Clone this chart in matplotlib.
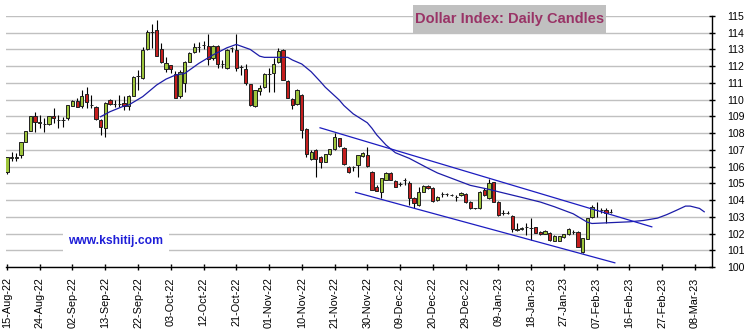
import matplotlib
matplotlib.use("Agg")
import matplotlib.pyplot as plt
from matplotlib.patches import Rectangle
import numpy as np
import pandas as pd

plt.rcParams['font.family'] = ['Liberation Sans', 'DejaVu Sans']

# Trading days (weekdays) of the candles and of the axis labels
start_day = '2022-08-15'
n_candles = 130
axis_days = 151
label_step = 7

# Daily OHLC of the Dollar Index
opens = [105.70, 106.50, 106.50, 106.70, 107.50, 108.15, 109.02, 108.62, 108.56, 108.54,
         109.04, 108.78, 108.78, 108.88, 109.64, 109.92, 109.64, 110.32, 109.68, 109.54,
         108.76, 108.29, 109.98, 109.72, 109.72, 109.78, 109.62, 110.22, 111.43, 111.27,
         113.00, 114.06, 114.16, 113.00, 111.81, 112.07, 111.53, 110.22, 111.00, 112.27,
         112.87, 113.17, 113.27, 113.20, 112.47, 113.20, 112.11, 111.91, 113.07, 112.97,
         111.97, 111.83, 110.92, 109.62, 110.54, 110.78, 111.53, 111.57, 112.23, 112.97,
         111.12, 110.04, 109.72, 110.28, 108.23, 106.43, 106.99, 106.59, 106.29, 106.73,
         107.03, 107.69, 107.13, 105.99, 106.00, 106.09, 106.63, 106.69, 105.70, 104.80,
         104.50, 105.20, 105.60, 105.14, 104.96, 105.20, 105.00, 104.10, 103.70, 104.50,
         104.84, 104.74, 104.00, 104.34, 104.34, 104.30, 104.20, 104.30, 104.34, 103.90,
         103.50, 103.50, 104.60, 104.10, 105.06, 103.90, 103.25, 103.25, 103.05, 102.20,
         102.25, 102.40, 102.35, 102.37, 102.10, 102.00, 102.05, 101.57, 101.57, 101.80,
         101.97, 102.10, 102.10, 100.92, 101.70, 103.00, 103.40, 103.40, 103.40, 103.30]
highs = [106.60, 106.85, 106.80, 107.50, 108.12, 109.02, 109.28, 109.08, 108.88, 109.00,
         109.48, 109.08, 108.98, 109.70, 110.00, 110.08, 110.57, 110.73, 110.27, 109.60,
         108.85, 109.85, 110.05, 109.98, 110.28, 110.22, 110.25, 111.40, 111.80, 113.13,
         114.16, 114.55, 114.76, 113.37, 112.57, 112.10, 111.70, 111.75, 112.30, 112.85,
         113.37, 113.47, 113.50, 113.90, 113.25, 113.25, 112.37, 113.00, 113.17, 113.90,
         112.07, 112.11, 110.95, 110.60, 110.88, 111.57, 111.87, 112.47, 113.11, 113.00,
         111.15, 110.08, 110.64, 110.35, 108.30, 106.99, 107.05, 106.65, 106.76, 107.06,
         108.03, 107.72, 107.16, 106.02, 106.05, 106.72, 106.85, 107.15, 105.75, 104.88,
         105.33, 105.66, 105.65, 105.18, 105.05, 105.30, 105.15, 104.18, 104.80, 104.92,
         104.90, 104.78, 104.26, 104.46, 104.40, 104.36, 104.30, 104.50, 104.40, 103.95,
         103.55, 104.55, 104.70, 105.25, 105.10, 103.95, 103.40, 103.35, 103.10, 102.60,
         102.40, 102.60, 102.90, 102.42, 102.15, 102.20, 102.10, 101.90, 101.88, 102.00,
         102.35, 102.20, 102.15, 101.75, 102.95, 103.70, 103.90, 103.55, 103.50, 103.45]
lows = [105.55, 106.33, 106.33, 106.53, 107.48, 108.10, 108.08, 108.28, 108.04, 108.50,
        108.58, 108.32, 108.38, 108.78, 109.60, 109.55, 109.52, 109.52, 109.48, 108.80,
        107.87, 107.79, 109.70, 109.58, 109.58, 109.38, 109.38, 110.20, 110.60, 111.25,
        112.98, 113.10, 112.60, 112.17, 111.67, 111.57, 110.07, 110.08, 110.48, 112.25,
        112.77, 112.87, 113.03, 112.10, 112.40, 111.91, 111.87, 111.85, 112.87, 111.71,
        111.47, 110.88, 109.64, 109.58, 110.28, 110.68, 110.48, 110.48, 112.20, 111.15,
        110.08, 109.44, 109.68, 107.73, 106.60, 106.39, 105.36, 105.90, 106.26, 106.70,
        107.00, 107.19, 106.10, 105.62, 105.75, 105.40, 106.60, 106.00, 104.58, 104.52,
        104.10, 105.17, 105.18, 104.78, 104.85, 104.90, 103.70, 103.55, 103.66, 104.47,
        104.65, 103.90, 103.96, 104.20, 104.25, 104.22, 103.95, 104.27, 103.84, 103.48,
        103.45, 103.48, 104.26, 104.05, 103.88, 103.05, 103.10, 103.15, 102.10, 102.15,
        102.22, 101.90, 101.60, 102.02, 101.92, 101.96, 101.58, 101.54, 101.54, 101.76,
        101.94, 102.00, 101.18, 100.85, 101.68, 102.95, 103.00, 103.25, 102.60, 103.20]
closes = [106.55, 106.55, 106.60, 107.50, 108.12, 109.02, 108.64, 108.64, 108.56, 109.00,
          108.88, 108.78, 108.78, 109.68, 109.94, 109.58, 110.24, 109.88, 109.68, 108.82,
          108.34, 109.82, 109.74, 109.72, 109.72, 109.62, 110.22, 111.37, 111.43, 112.97,
          114.06, 114.06, 112.63, 112.27, 112.17, 111.81, 110.08, 111.67, 112.27, 112.81,
          113.13, 113.17, 113.27, 112.43, 113.20, 112.11, 112.11, 112.97, 113.07, 111.91,
          111.97, 110.97, 109.68, 110.58, 110.72, 111.51, 111.53, 112.11, 112.91, 111.18,
          110.12, 109.68, 110.58, 108.19, 106.73, 106.89, 106.45, 106.29, 106.73, 107.03,
          107.79, 107.23, 106.13, 105.66, 106.00, 106.69, 106.79, 106.05, 104.60, 104.56,
          105.30, 105.60, 105.20, 104.80, 104.96, 105.20, 104.10, 103.80, 104.50, 104.86,
          104.70, 103.94, 104.20, 104.34, 104.34, 104.30, 104.20, 104.45, 103.86, 103.50,
          103.50, 104.50, 104.30, 105.00, 103.90, 103.10, 103.25, 103.25, 102.25, 102.30,
          102.35, 102.40, 102.35, 102.05, 101.97, 102.15, 101.60, 101.87, 101.85, 101.95,
          102.30, 102.10, 101.20, 101.71, 102.90, 103.60, 103.40, 103.40, 103.25, 103.30]

# Moving average (trading-day number, value); it runs past the last candle
ma_days = [20, 22, 25, 26, 29, 32, 34, 36, 38, 41, 44, 47, 49, 52, 54, 55, 60, 61, 63, 65,
           67, 68, 71, 72, 74, 77, 78, 79, 81, 83, 86, 90, 92, 99, 103, 105, 110, 114, 117,
           121, 124, 125, 129, 133, 136, 139, 141, 143, 145, 146, 148, 149]
ma_vals = [108.98, 109.28, 109.62, 109.68, 110.18, 110.88, 111.23, 111.47, 111.57, 112.17,
           112.67, 113.10, 113.30, 113.00, 112.60, 112.53, 112.53, 112.37, 112.13, 111.67,
           111.07, 110.75, 109.98, 109.65, 109.15, 108.62, 108.29, 107.90, 107.29, 106.83,
           106.49, 105.90, 105.62, 104.88, 104.64, 104.50, 104.16, 103.88, 103.60, 103.18,
           102.68, 102.60, 102.65, 102.70, 102.78, 102.92, 103.13, 103.38, 103.64, 103.64,
           103.50, 103.30]

# Falling channel
upper_days = [66.9, 137.8]
upper_vals = [108.32, 102.40]
lower_days = [74.5, 129.9]
lower_vals = [104.46, 100.25]

y_ticks = list(range(100, 116))

title_text = 'Dollar Index: Daily Candles'
site_text = 'www.kshitij.com'

# ------------------------------------------------------------------
W, H = 753, 334
fig = plt.figure(figsize=(W / 100, H / 100), dpi=100)
fig.patch.set_facecolor('white')
ax = fig.add_axes([6 / W, 1 - 267 / H, (711.7 - 6) / W, (267 - 16) / H])

days = np.arange(n_candles)
o = np.array(opens); h = np.array(highs); l = np.array(lows); c = np.array(closes)

green = '#9dc53b'
red = '#c41e1e'
edge = '#202020'

# wicks
ax.vlines(days, l, h, color='black', lw=0.8, zorder=2)
# bodies
body_bottom = np.minimum(o, c)
body_height = np.abs(c - o)
colors = np.where(c > o, green, np.where(c < o, red, 'black'))
ax.bar(days, body_height, bottom=body_bottom, width=0.7, color=colors,
       edgecolor=edge, linewidth=0.7, zorder=3)

# moving average and channel lines
ax.plot(ma_days, ma_vals, color='#1c1ca8', lw=0.9, zorder=4)
ax.plot(upper_days, upper_vals, color='#1c1cc0', lw=0.9, zorder=4)
ax.plot(lower_days, lower_vals, color='#1c1cc0', lw=0.9, zorder=4)

# axes
ax.set_xlim(-0.21, 150.6)
ax.set_ylim(100, 115)
ax.set_yticks(y_ticks)
ax.yaxis.tick_right()
ax.yaxis.grid(True, color='#c0c0c0', lw=1.0, zorder=0)
ax.set_axisbelow(True)

label_days = pd.bdate_range(start_day, periods=axis_days)
tick_pos = np.arange(0, axis_days, label_step)
ax.set_xticks(tick_pos)
ax.set_xticklabels([label_days[i].strftime('%d-%b-%y') for i in tick_pos],
                   rotation=90, fontsize=7.8)
for lab in ax.get_yticklabels():
    lab.set_fontsize(7.6)

for side in ('left', 'top'):
    ax.spines[side].set_visible(False)
for side in ('right', 'bottom'):
    ax.spines[side].set_color('black')
    ax.spines[side].set_linewidth(1.0)
ax.tick_params(axis='y', direction='inout', length=5, width=1, pad=9, colors='black')
ax.tick_params(axis='x', direction='inout', length=5, width=1, pad=5, colors='black')

# title box
fig.patches.append(Rectangle((412.7 / W, 1 - 33 / H), 193 / W, 28 / H,
                             transform=fig.transFigure, facecolor='#c0c0c0',
                             edgecolor='none', zorder=1))
fig.text(509.5 / W, 1 - 19 / H, title_text, ha='center', va='center',
         fontsize=10.5, fontweight='bold', color='#993366', zorder=2)

# site label
fig.text(116 / W, 1 - 241 / H, site_text, ha='center', va='center',
         fontsize=8.7, fontweight='bold', color='#1f1fd8', zorder=5,
         bbox=dict(facecolor='white', edgecolor='none', pad=4))

fig.savefig('out.png', dpi=100)
